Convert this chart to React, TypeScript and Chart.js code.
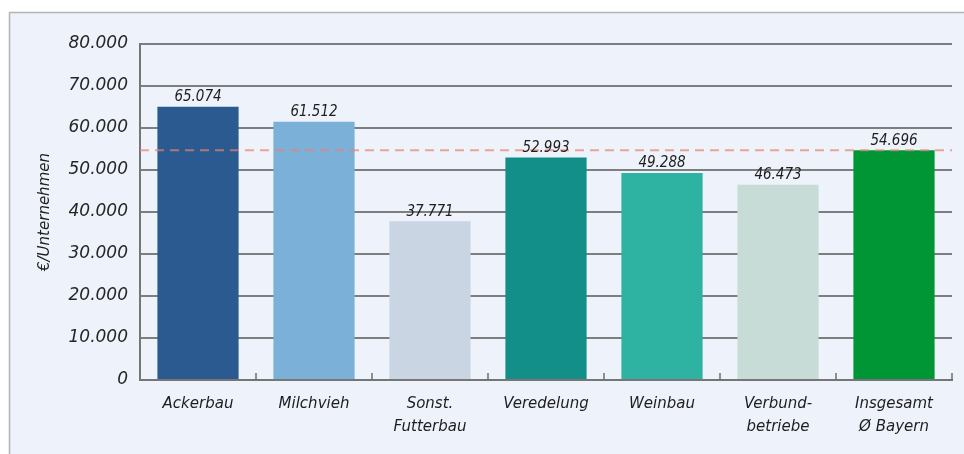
import React, { useEffect, useRef } from "react";
import { Chart, registerables } from "chart.js";

Chart.register(...registerables);

const categories: string[][] = [
  ["Ackerbau"],
  ["Milchvieh"],
  ["Sonst.", "Futterbau"],
  ["Veredelung"],
  ["Weinbau"],
  ["Verbund-", "betriebe"],
  ["Insgesamt", "Ø Bayern"],
];
const values: number[] = [65074, 61512, 37771, 52993, 49288, 46473, 54696];
const barColors: string[] = [
  "#2B5A91",
  "#7BB0D9",
  "#C9D5E3",
  "#128F88",
  "#2EB3A3",
  "#C7DCD7",
  "#009535",
];
const averageValue = 54696;
const yTitle = "€/Unternehmen";
const yMin = 0;
const yMax = 80000;
const yStep = 10000;

function fmt(v: number): string {
  const s = Math.round(v).toString();
  return s.replace(/\B(?=(\d{3})+(?!\d))/g, ".");
}

const framePlugin = {
  id: "frame",
  beforeDraw(chart: any) {
    const { ctx, width, height } = chart;
    ctx.save();
    ctx.fillStyle = "#ffffff";
    ctx.fillRect(0, 0, width, height);
    ctx.fillStyle = "#EDF2FB";
    ctx.fillRect(10, 13, width - 10, height - 13);
    ctx.strokeStyle = "#B4B4B4";
    ctx.lineWidth = 1.5;
    ctx.beginPath();
    ctx.moveTo(9.5, height);
    ctx.lineTo(9.5, 12.5);
    ctx.lineTo(width, 12.5);
    ctx.stroke();
    ctx.restore();
  },
  afterDatasetsDraw(chart: any) {
    const { ctx, chartArea } = chart;
    const xs = chart.scales.x;
    const ys = chart.scales.y;
    ctx.save();
    // dashed average line
    const ay = ys.getPixelForValue(averageValue);
    ctx.strokeStyle = "rgba(232,130,110,0.7)";
    ctx.lineWidth = 2;
    ctx.setLineDash([9, 6]);
    ctx.beginPath();
    ctx.moveTo(chartArea.left, ay);
    ctx.lineTo(chartArea.right, ay);
    ctx.stroke();
    ctx.setLineDash([]);
    // category tick marks
    ctx.strokeStyle = "#6E6E6E";
    ctx.lineWidth = 1.5;
    const bottom = ys.getPixelForValue(0);
    for (let i = 0; i < categories.length; i++) {
      const xr =
        i < categories.length - 1
          ? (xs.getPixelForValue(i) + xs.getPixelForValue(i + 1)) / 2
          : chartArea.right;
      ctx.beginPath();
      ctx.moveTo(xr, bottom);
      ctx.lineTo(xr, bottom - 7);
      ctx.stroke();
    }
    // value labels
    ctx.fillStyle = "#1E1E1E";
    ctx.font = "italic 15px 'DejaVu Sans Condensed', 'DejaVu Sans', sans-serif";
    ctx.textAlign = "center";
    ctx.textBaseline = "bottom";
    const meta = chart.getDatasetMeta(0);
    meta.data.forEach((bar: any, i: number) => {
      ctx.fillText(fmt(values[i]), bar.x, bar.y - 2);
    });
    ctx.restore();
  },
};

export default function App() {
  const ref = useRef<HTMLCanvasElement | null>(null);
  useEffect(() => {
    document.body.style.margin = "0";
    const canvas = ref.current;
    if (!canvas) return;
    const chart = new Chart(canvas, {
      type: "bar",
      data: {
        labels: categories,
        datasets: [
          {
            data: values,
            backgroundColor: barColors,
            borderWidth: 0,
            barPercentage: 0.7,
            categoryPercentage: 1.0,
          },
        ],
      },
      options: {
        responsive: false,
        animation: false,
        devicePixelRatio: 1,
        layout: { padding: { top: 44, right: 12, left: 0, bottom: 0 } },
        plugins: {
          legend: { display: false },
          tooltip: { enabled: false },
        },
        scales: {
          x: {
            grid: { display: false, drawTicks: false },
            border: { display: true, color: "#767676", width: 2 },
            ticks: {
              color: "#1E1E1E",
              padding: 13,
              maxRotation: 0,
              autoSkip: false,
              font: {
                family: "'DejaVu Sans', sans-serif",
                size: 15,
                style: "italic",
                lineHeight: 1.5,
              },
            },
            afterFit(scale: any) {
              scale.height = 74;
            },
          },
          y: {
            min: yMin,
            max: yMax,
            grid: {
              color: "#7E7E80",
              lineWidth: 2,
              drawTicks: false,
            },
            border: { display: true, color: "#767676", width: 2 },
            ticks: {
              stepSize: yStep,
              color: "#262626",
              padding: 12,
              callback: (v: any) => fmt(Number(v)),
              font: {
                family: "'DejaVu Sans', sans-serif",
                size: 17,
                style: "italic",
              },
            },
            title: {
              display: true,
              text: yTitle,
              color: "#1E1E1E",
              padding: { top: 36, bottom: 0 },
              font: {
                family: "'DejaVu Sans', sans-serif",
                size: 15,
                style: "italic",
              },
            },
            afterFit(scale: any) {
              scale.width = 140;
            },
          },
        },
      },
      plugins: [framePlugin],
    });
    return () => chart.destroy();
  }, []);
  return (
    <div style={{ width: 964, height: 454 }}>
      <canvas ref={ref} width={964} height={454} style={{ display: "block" }} />
    </div>
  );
}
